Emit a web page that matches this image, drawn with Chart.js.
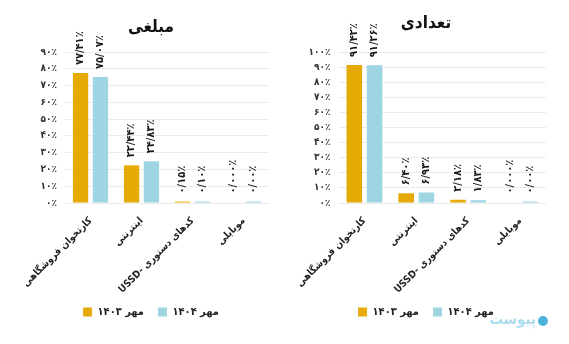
<!DOCTYPE html>
<html lang="fa">
<head>
<meta charset="utf-8">
<script src="https://cdn.jsdelivr.net/npm/chart.js@4.4.1/dist/chart.umd.min.js"></script>
<style>
  html, body { margin: 0; padding: 0; background: #fff; }
  .wrap { position: relative; width: 569px; height: 344px; }
  #amountChart { position: absolute; left: 0; top: 0; }
  #countChart { position: absolute; left: 284px; top: 0; }
</style>
</head>
<body>
<div class="wrap">
  <canvas id="amountChart" width="284" height="344"></canvas>
  <canvas id="countChart" width="285" height="344"></canvas>
</div>
<script>
const FONT = '"DejaVu Sans Condensed", "DejaVu Sans", sans-serif';
const GOLD = '#e6aa05';
const BLUE = '#9dd5e3';

const categories = ['کارتخوان فروشگاهی', 'اینترنتی', 'USSD- کدهای دستوری', 'موبایلی'];
const seriesNames = ['مهر ۱۴۰۳', 'مهر ۱۴۰۴'];

// share of transaction value (%)
const amount1403 = [77.41, 22.44, 0.15, null];
const amount1404 = [75.07, 24.83, 0.10, 0];
const amountLabels1403 = ['۷۷/۴۱٪', '۲۲/۴۴٪', '۰/۱۵٪', '۰/۰۰۰٪'];
const amountLabels1404 = ['۷۵/۰۷٪', '۲۴/۸۳٪', '۰/۱۰٪', '۰/۰۰٪'];

// share of transaction count (%)
const count1403 = [91.42, 6.40, 2.18, null];
const count1404 = [91.26, 6.93, 1.83, 0];
const countLabels1403 = ['۹۱/۴۲٪', '۶/۴۰٪', '۲/۱۸٪', '۰/۰۰۰٪'];
const countLabels1404 = ['۹۱/۲۶٪', '۶/۹۳٪', '۱/۸۳٪', '۰/۰۰٪'];

const faDigits = s => String(s).replace(/\d/g, d => '۰۱۲۳۴۵۶۷۸۹'[d]);

// vertical value labels above each bar
const barLabels = {
  id: 'barLabels',
  afterDatasetsDraw(chart) {
    const {ctx, scales: {y}} = chart;
    chart.data.datasets.forEach((ds, di) => {
      const meta = chart.getDatasetMeta(di);
      meta.data.forEach((bar, i) => {
        const v = ds.data[i] == null ? 0 : ds.data[i];
        const top = Math.min(y.getPixelForValue(v), y.getPixelForValue(0) - 1.5);
        ctx.save();
        ctx.translate(bar.x, top - 8);
        ctx.rotate(-Math.PI / 2);
        ctx.font = 'bold 11px ' + FONT;
        ctx.fillStyle = '#1a1a1a';
        ctx.textAlign = 'left';
        ctx.textBaseline = 'middle';
        ctx.fillText(ds.valueLabels[i], 0, 0);
        ctx.restore();
      });
    });
  }
};

// site mark under the count chart
const siteMark = {
  id: 'siteMark',
  afterDraw(chart) {
    const {ctx} = chart;
    ctx.save();
    ctx.fillStyle = '#4db3dc';
    ctx.beginPath();
    ctx.arc(259, 321, 5, 0, Math.PI * 2);
    ctx.fill();
    ctx.font = 'bold 15px ' + FONT;
    ctx.fillStyle = '#aadcee';
    ctx.textAlign = 'right';
    ctx.textBaseline = 'middle';
    ctx.fillText('پیوست', 252, 320);
    ctx.restore();
  }
};

function makeChart(id, title, d1403, d1404, l1403, l1404, yMax, pad, yWidth, titlePad, extra) {
  return new Chart(document.getElementById(id), {
    type: 'bar',
    data: {
      labels: categories,
      datasets: [
        { label: seriesNames[0], data: d1403, valueLabels: l1403, backgroundColor: GOLD },
        { label: seriesNames[1], data: d1404, valueLabels: l1404, backgroundColor: BLUE }
      ]
    },
    options: {
      responsive: false,
      animation: false,
      barPercentage: 0.77,
      categoryPercentage: 0.78,
      minBarLength: 1.5,
      layout: { padding: pad },
      plugins: {
        title: {
          display: true,
          text: title,
          color: '#111',
          font: { family: FONT, size: 17, weight: 'bold' },
          padding: titlePad
        },
        legend: {
          position: 'bottom',
          labels: {
            boxWidth: 9,
            boxHeight: 9,
            padding: 14,
            color: '#222',
            font: { family: FONT, size: 11, weight: 'bold' }
          }
        },
        tooltip: { enabled: false }
      },
      scales: {
        x: {
          grid: { display: false },
          border: { display: false },
          ticks: {
            minRotation: 45,
            maxRotation: 45,
            padding: 4,
            color: '#222',
            font: { family: FONT, size: 10, weight: 'bold' }
          },
          afterFit: s => { s.height = 89.5; }
        },
        y: {
          min: 0,
          max: yMax,
          grid: { color: '#ebebeb', drawTicks: false },
          border: { display: false },
          ticks: {
            stepSize: 10,
            padding: 8,
            color: '#333',
            font: { family: FONT, size: 10, weight: 'bold' },
            callback: v => faDigits(v) + '٪'
          },
          afterFit: s => { s.width = yWidth; }
        }
      }
    },
    plugins: extra
  });
}

makeChart('amountChart', 'مبلغی', amount1403, amount1404, amountLabels1403, amountLabels1404,
  90, { left: 33, right: 15, top: 0, bottom: 16.5 }, 32, { top: 17, bottom: 14.6 }, [barLabels]);

makeChart('countChart', 'تعدادی', count1403, count1404, countLabels1403, countLabels1404,
  100, { left: 22, right: 23, top: 0, bottom: 16.5 }, 32.5, { top: 13, bottom: 18.6 }, [barLabels, siteMark]);
</script>
</body>
</html>
